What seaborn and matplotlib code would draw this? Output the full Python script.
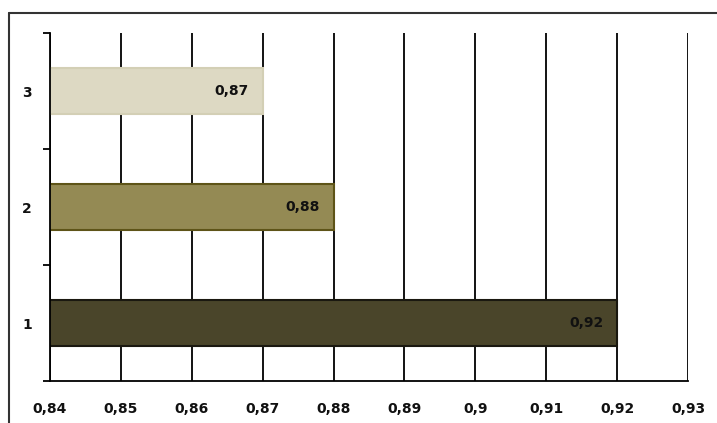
import pandas as pd
import seaborn as sns
import matplotlib.pyplot as plt
from matplotlib.ticker import FuncFormatter, FixedLocator
from matplotlib.lines import Line2D

# datos del grafico
categorias = ["3", "2", "1"]
valores = [0.87, 0.88, 0.92]
colores = ["#ddd9c3", "#948a54", "#4a452a"]
bordes = ["#d3cfb5", "#5e5418", "#1a1810"]
ticks_x = [0.84, 0.85, 0.86, 0.87, 0.88, 0.89, 0.90, 0.91, 0.92, 0.93]

df = pd.DataFrame({"categoria": categorias, "valor": valores})

sns.set_style("white")
plt.rcParams["font.family"] = ["DejaVu Sans"]

fig = plt.figure(figsize=(7.17, 4.23), dpi=100)
ax = fig.add_axes([50 / 717, 1 - 381 / 423, 638 / 717, 348 / 423])

sns.barplot(data=df, x="valor", y="categoria", order=categorias,
            palette=colores, hue="categoria", legend=False, saturation=1,
            width=0.39, orient="h", ax=ax)

for patch, borde in zip(ax.patches, bordes):
    patch.set_edgecolor(borde)
    patch.set_linewidth(1.5)

# etiquetas de valor dentro de las barras
for patch, v in zip(ax.patches, valores):
    y = patch.get_y() + patch.get_height() / 2
    ax.annotate(f"{v:.2f}".replace(".", ","), xy=(patch.get_width(), y),
                xytext=(-10, 0), textcoords="offset points",
                ha="right", va="center", fontsize=10, fontweight="bold",
                color="#111111")

ax.set_xlim(0.84, 0.93)
ax.set_ylim(2.5, -0.5)
ax.xaxis.set_major_locator(FixedLocator(ticks_x))
ax.xaxis.set_major_formatter(FuncFormatter(lambda x, p: f"{x:g}".replace(".", ",")))
ax.grid(axis="x", color="black", linewidth=1.3)
ax.set_axisbelow(True)
ax.set_xlabel("")
ax.set_ylabel("")

for s in ["top", "right"]:
    ax.spines[s].set_visible(False)
for s in ["left", "bottom"]:
    ax.spines[s].set_color("black")
    ax.spines[s].set_linewidth(1.3)

ax.tick_params(axis="x", length=5, width=1.3, color="black", labelsize=10,
               pad=10, labelcolor="#111111")
ax.tick_params(axis="y", length=0, labelsize=10, pad=13, labelcolor="#111111")
ax.yaxis.set_minor_locator(FixedLocator([-0.5, 0.5, 1.5, 2.5]))
ax.tick_params(axis="y", which="minor", length=5, width=1.3, color="black", left=True)
for lab in ax.get_xticklabels() + ax.get_yticklabels():
    lab.set_fontweight("bold")

# marco exterior (solo se ven arriba e izquierda)
fig.add_artist(Line2D([9 / 717, 1.01], [1 - 13 / 423, 1 - 13 / 423],
                      transform=fig.transFigure, color="#333333", linewidth=1.5))
fig.add_artist(Line2D([9 / 717, 9 / 717], [1 - 13 / 423, -0.01],
                      transform=fig.transFigure, color="#333333", linewidth=1.5))

fig.savefig("out.png", dpi=100)
